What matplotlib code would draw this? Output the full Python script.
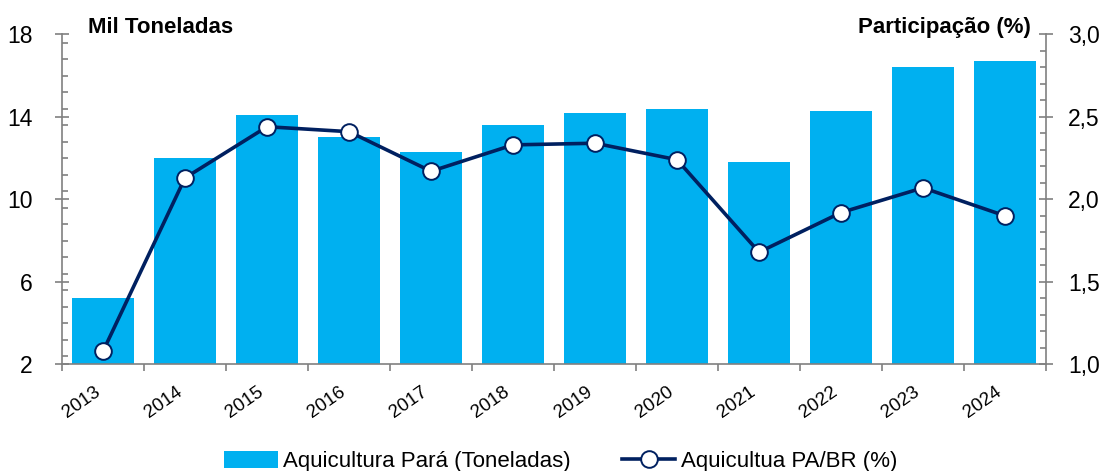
import matplotlib
matplotlib.use("Agg")
import matplotlib.pyplot as plt
import matplotlib.transforms as mtrans
from matplotlib.ticker import MultipleLocator, FixedLocator
from matplotlib.lines import Line2D
from matplotlib.patches import Patch

years = ["2013", "2014", "2015", "2016", "2017", "2018", "2019", "2020", "2021", "2022", "2023", "2024"]
producao = [5.2, 12.0, 14.1, 13.0, 12.3, 13.6, 14.2, 14.4, 11.8, 14.3, 16.4, 16.7]
participacao = [1.08, 2.13, 2.44, 2.41, 2.17, 2.33, 2.34, 2.24, 1.68, 1.92, 2.07, 1.90]
left_ticks = [2, 6, 10, 14, 18]
right_ticks = [1.0, 1.5, 2.0, 2.5, 3.0]
right_labels = ["1,0", "1,5", "2,0", "2,5", "3,0"]

FONT = ["Liberation Sans", "DejaVu Sans"]
plt.rcParams['font.family'] = FONT

bar_color = "#00B0F0"
line_color = "#002060"
axis_color = "#808080"

fig = plt.figure(figsize=(11.04, 4.71), dpi=100)
ax = fig.add_axes([0.0562, 0.2263, 0.8913, 0.7009])
ax2 = ax.twinx()

x = list(range(len(years)))
ax.bar(x, producao, width=0.745, color=bar_color, bottom=0, zorder=2)
ax.set_ylim(2, 18)
ax.set_xlim(-0.5, len(years) - 0.5)
ax.yaxis.set_major_locator(FixedLocator(left_ticks))
ax.yaxis.set_minor_locator(MultipleLocator(0.8))
ax.set_yticklabels([str(t) for t in left_ticks], fontsize=16.5)

ax.set_xticks(x)
ax.set_xticklabels(years, rotation=35, fontsize=13.5, ha="right", va="top")
offset = mtrans.ScaledTranslation(3 / 100, 0, fig.dpi_scale_trans)
for lbl in ax.get_xticklabels():
    lbl.set_transform(lbl.get_transform() + offset)
ax.tick_params(axis="x", which="major", length=0, pad=13.5)
ax.xaxis.set_minor_locator(FixedLocator([i - 0.5 for i in range(len(years) + 1)]))
ax.tick_params(axis="x", which="minor", length=5, direction="out", color=axis_color, width=1.2)

ax.tick_params(axis="y", which="major", length=10, direction="inout", color=axis_color, width=1.2, pad=16)
ax.tick_params(axis="y", which="minor", length=4.5, direction="in", color=axis_color, width=1.2)

ax2.plot(x, participacao, color=line_color, lw=2.6, marker="o", ms=12,
         mfc="white", mec=line_color, mew=1.4, zorder=3)
ax2.set_ylim(1.0, 3.0)
ax2.yaxis.set_major_locator(FixedLocator(right_ticks))
ax2.yaxis.set_minor_locator(MultipleLocator(0.1))
ax2.set_yticklabels(right_labels, fontsize=16.5)
ax2.tick_params(axis="y", which="major", length=10, direction="inout", color=axis_color, width=1.2, pad=11)
ax2.tick_params(axis="y", which="minor", length=4.5, direction="in", color=axis_color, width=1.2)

for a in (ax, ax2):
    a.spines["top"].set_visible(False)
    for s in ("left", "right", "bottom"):
        a.spines[s].set_color(axis_color)
        a.spines[s].set_linewidth(1.2)
ax.spines["right"].set_visible(False)
ax2.spines["left"].set_visible(False)
ax2.spines["bottom"].set_visible(False)

ax.text(0.026, 1.02, "Mil Toneladas", transform=ax.transAxes, fontsize=16,
        fontweight="bold", ha="left", va="center")
ax2.text(0.985, 1.02, "Participação (%)", transform=ax.transAxes, fontsize=16,
         fontweight="bold", ha="right", va="center")

handles = [Patch(facecolor=bar_color, edgecolor="none"),
           Line2D([0], [0], color=line_color, lw=2.6, marker="o", ms=12,
                  mfc="white", mec=line_color, mew=1.4)]
fig.legend(handles, ["Aquicultura Pará (Toneladas)", "Aquicultua PA/BR (%)"],
           loc="lower center", bbox_to_anchor=(0.508, -0.045), ncol=2, frameon=False,
           fontsize=16, handlelength=2.4, handleheight=0.8, handletextpad=0.25,
           columnspacing=2.3)

fig.savefig("out.png", dpi=100)
